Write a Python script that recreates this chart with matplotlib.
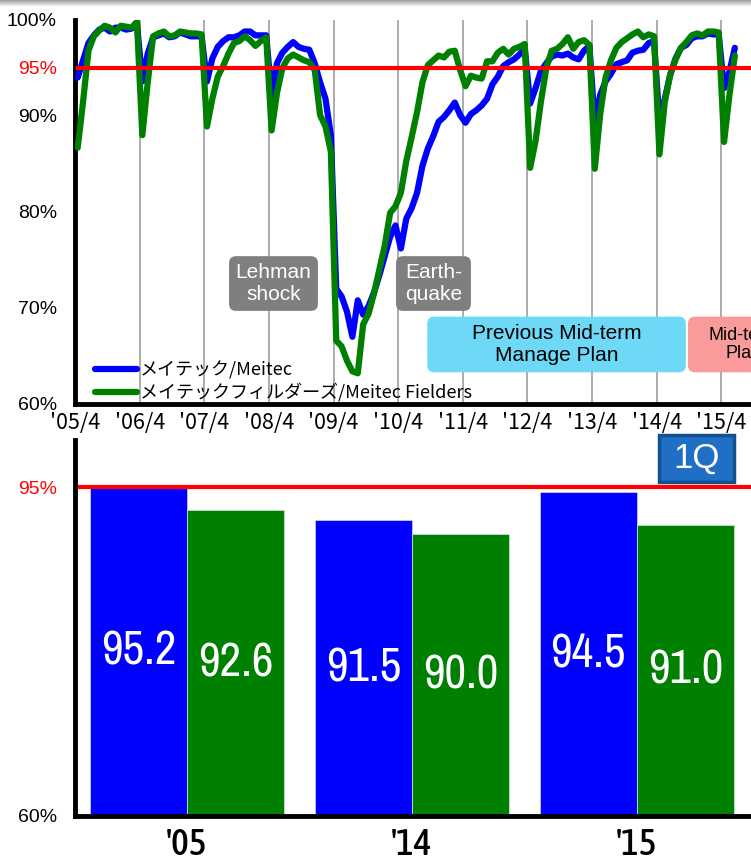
import numpy as np
import matplotlib
matplotlib.use("Agg")
import matplotlib.pyplot as plt
from matplotlib import font_manager
from matplotlib.patches import FancyBboxPatch

plt.rcParams['font.family'] = ['Liberation Sans', 'Noto Sans CJK JP', 'DejaVu Sans']

# monthly utilization rate (%), Apr 2005 - Jun 2015, one fiscal year per row
meitec = [
    94.0, 95.8, 97.6, 98.4, 99.0, 99.2, 98.8, 99.2, 99.2, 99.0, 99.1, 99.6,
    93.6, 96.5, 98.2, 98.4, 98.6, 98.2, 98.3, 98.7, 98.5, 98.3, 98.3, 98.3,
    93.6, 96.0, 97.2, 97.8, 98.2, 98.2, 98.4, 98.8, 98.8, 98.4, 98.4, 98.4,
    92.0, 95.5, 96.6, 97.2, 97.7, 97.2, 97.0, 96.9, 95.5, 93.5, 91.8, 88.0,
    72.0, 71.2, 69.6, 67.0, 70.8, 69.3, 70.2, 71.6, 73.4, 75.4, 77.4, 78.6,
    76.2, 79.3, 80.4, 82.0, 84.8, 86.6, 87.9, 89.4, 89.9, 90.6, 91.4, 90.1,
    89.3, 90.2, 90.6, 91.1, 91.8, 93.3, 94.1, 95.2, 95.6, 95.9, 96.4, 97.0,
    91.3, 92.9, 94.7, 95.5, 96.2, 96.4, 96.3, 96.5, 96.1, 95.9, 96.8, 97.3,
    89.1, 92.2, 93.6, 94.4, 95.4, 95.6, 95.8, 96.6, 96.8, 96.9, 97.6, 97.8,
    89.4, 91.8, 94.3, 96.0, 97.1, 97.4, 98.1, 98.3, 98.3, 98.6, 98.5, 98.5,
    92.9, 94.6, 97.1,
]
fielders = [
    86.7, 91.5, 96.8, 98.3, 98.9, 99.4, 99.2, 98.7, 99.4, 99.3, 99.2, 99.8,
    88.0, 93.5, 98.3, 98.6, 98.8, 98.3, 98.4, 98.8, 98.7, 98.6, 98.6, 98.5,
    88.9, 91.8, 94.1, 95.2, 96.5, 97.6, 97.8, 98.3, 97.9, 97.3, 97.8, 98.2,
    88.5, 92.4, 95.0, 96.0, 96.4, 96.1, 95.8, 95.6, 94.8, 90.1, 88.9, 86.3,
    66.6, 66.0, 64.5, 63.4, 63.2, 68.3, 69.4, 71.5, 74.0, 76.5, 79.9, 80.6,
    82.0, 85.3, 87.8, 90.4, 93.5, 95.3, 95.8, 96.3, 96.1, 96.7, 96.8, 94.8,
    93.1, 94.2, 94.0, 93.9, 95.7, 95.7, 96.6, 97.0, 96.4, 97.0, 97.2, 97.5,
    84.6, 87.4, 91.5, 95.0, 96.8, 97.0, 97.5, 98.2, 97.0, 97.7, 97.9, 97.4,
    84.5, 90.2, 94.0, 95.8, 97.1, 97.7, 98.1, 98.5, 98.8, 98.2, 98.5, 98.3,
    86.0, 91.5, 94.3, 95.9, 97.1, 97.7, 98.4, 98.6, 98.4, 98.8, 98.8, 98.7,
    87.3, 92.2, 96.3,
]
year_labels = ["'05/4", "'06/4", "'07/4", "'08/4", "'09/4", "'10/4",
               "'11/4", "'12/4", "'13/4", "'14/4", "'15/4"]

# first quarter averages
bar_years = ["'05", "'14", "'15"]
bar_meitec = [95.2, 91.5, 94.5]
bar_fielders = [92.6, 90.0, 91.0]

BLUE = '#0000ff'
GREEN = '#008000'
RED = '#ff0000'
JP = 'Noto Sans CJK JP'


def narrow_font(weight=400):
    # look for an installed narrow/condensed face, else plain sans
    best = None
    for f in font_manager.fontManager.ttflist:
        nm = f.name.lower()
        cond = 'narrow' in nm or 'condensed' in nm or f.stretch in ('condensed', 'semi-condensed')
        if not cond or f.style != 'normal':
            continue
        w = f.weight if isinstance(f.weight, int) else 400
        score = abs(w - weight) + (0 if 'narrow' in nm else 50)
        if best is None or score < best[0]:
            best = (score, f.fname)
    if best:
        return font_manager.FontProperties(fname=best[1])
    return font_manager.FontProperties(family='Liberation Sans')


def add_box(ax, x0, x1, y0, y1, color, text, tcolor, tx=None, size=15):
    # rounded box in data coords, corners kept circular on screen
    asp = (ax.get_position().width * 751 / np.ptp(ax.get_xlim())) / \
          (ax.get_position().height * 864 / np.ptp(ax.get_ylim()))
    box = FancyBboxPatch((x0, y0), x1 - x0, y1 - y0,
                         boxstyle="round,pad=0,rounding_size=1.3",
                         mutation_aspect=asp, facecolor=color,
                         edgecolor='none', zorder=5, clip_on=False)
    ax.add_patch(box)
    if tx is None:
        tx = (x0 + x1) / 2
    ax.text(tx, (y0 + y1) / 2, text, color=tcolor, fontsize=size,
            ha='center', va='center', linespacing=1.15, zorder=6,
            family='Liberation Sans')


fig = plt.figure(figsize=(7.51, 8.64), dpi=100)

# thin shadow along the top edge
shade = fig.add_axes([0, 1 - 7 / 864, 1, 7 / 864])
shade.imshow(np.linspace(0.62, 1.0, 20).reshape(-1, 1), cmap='gray',
             vmin=0, vmax=1, aspect='auto')
shade.axis('off')

# --- monthly line chart ---
ax1 = fig.add_axes([75 / 751, 1 - 404 / 864, 676 / 751, 384 / 864])
x = np.arange(len(meitec))
ax1.set_xlim(-0.5, 125)
ax1.set_ylim(60, 100)

grid_x = [12 * k - 0.5 for k in range(len(year_labels))]
ax1.vlines(grid_x[1:], 60, 100, color='#a6a6a6', lw=1.3, zorder=1)

ax1.plot(x, meitec, color=BLUE, lw=4.5, solid_joinstyle='round',
         solid_capstyle='round', zorder=3, label='メイテック/Meitec')
ax1.plot(x, fielders, color=GREEN, lw=4.5, solid_joinstyle='round',
         solid_capstyle='round', zorder=4, label='メイテックフィルダーズ/Meitec Fielders')
ax1.axhline(95, xmin=0.004, color=RED, lw=3, zorder=7)

ax1.set_yticks([60, 70, 80, 90, 95, 100])
ax1.set_yticklabels(['60%', '70%', '80%', '90%', '95%', '100%'], fontsize=14)
ax1.get_yticklabels()[4].set_color(RED)
ax1.set_xticks(grid_x)
ax1.set_xticklabels(year_labels, family=JP, fontsize=15.5)
ax1.tick_params(axis='y', length=0, pad=13)
ax1.tick_params(axis='x', length=0, pad=6)
for s in ['top', 'right']:
    ax1.spines[s].set_visible(False)
for s in ['left', 'bottom']:
    ax1.spines[s].set_linewidth(3.5)

leg = ax1.legend(loc='lower left', bbox_to_anchor=(0.03, 0.004), frameon=False,
                 prop=font_manager.FontProperties(family=JP, size=13),
                 handlelength=2.3, handletextpad=0.15, labelspacing=0.2,
                 borderaxespad=0, borderpad=0)

add_box(ax1, 28.1, 44.6, 69.7, 75.4, '#7f7f7f', 'Lehman\nshock', 'white')
add_box(ax1, 59.1, 73.0, 69.7, 75.4, '#7f7f7f', 'Earth-\nquake', 'white')
add_box(ax1, 64.9, 112.9, 63.3, 69.1, '#6dd9f7', 'Previous Mid-term\nManage Plan', 'black')
add_box(ax1, 113.3, 140, 63.3, 69.1, '#fa9b9b', 'Mid-term\nPlan', 'black',
        tx=123.7, size=13)

# --- first quarter bars ---
ax2 = fig.add_axes([75 / 751, 48 / 864, 676 / 751, 376 / 864])
ax2.set_xlim(-0.498, 2.507)
ax2.set_ylim(60, 100)
g = np.arange(len(bar_years))
w = 0.433
ax2.bar(g - w / 2, bar_meitec, width=w, color=BLUE, edgecolor='#c8c8e8', lw=0.6, zorder=2)
ax2.bar(g + w / 2, bar_fielders, width=w, color=GREEN, edgecolor='#c8e0c8', lw=0.6, zorder=2)
ax2.axhline(95, xmin=0.007, color=RED, lw=3, zorder=4)

val_font = narrow_font()
for xi, v in zip(g - w / 2, bar_meitec):
    ax2.text(xi, (60 + v) / 2, f'{v:.1f}', color='white', fontproperties=val_font,
             fontsize=34, ha='center', va='center', zorder=3)
for xi, v in zip(g + w / 2, bar_fielders):
    ax2.text(xi, (60 + v) / 2, f'{v:.1f}', color='white', fontproperties=val_font,
             fontsize=34, ha='center', va='center', zorder=3)

ax2.set_yticks([60, 95])
ax2.set_yticklabels(['60%', '95%'], fontsize=14)
ax2.get_yticklabels()[1].set_color(RED)
ax2.set_xticks(g)
ax2.set_xticklabels(bar_years, fontproperties=narrow_font(500), fontsize=27)
ax2.tick_params(axis='y', length=0, pad=13)
ax2.tick_params(axis='x', length=0, pad=8)
for s in ['top', 'right']:
    ax2.spines[s].set_visible(False)
for s in ['left', 'bottom']:
    ax2.spines[s].set_linewidth(3.5)

# quarter badge
badge = FancyBboxPatch((659 / 751, 1 - 482 / 864), 75 / 751, 47 / 864,
                       boxstyle='square,pad=0', transform=fig.transFigure,
                       facecolor='#1f6fc4', edgecolor='#15508e', lw=2.5, zorder=10)
fig.patches.append(badge)
fig.text(696.5 / 751, 1 - 458.5 / 864, '1Q', color='white', fontsize=25,
         ha='center', va='center', zorder=11)

fig.savefig('out.png', dpi=100)
